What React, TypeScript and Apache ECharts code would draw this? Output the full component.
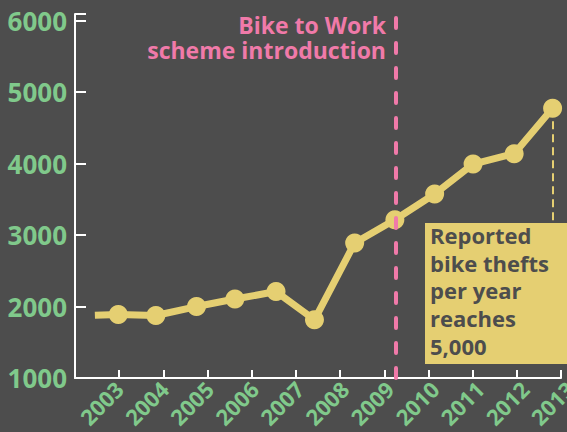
import React, { useEffect, useRef } from "react";
import * as echarts from "echarts";

const xTicks = [2003, 2004, 2005, 2006, 2007, 2008, 2009, 2010, 2011, 2012, 2013];
const pointYears = [2002.45, 2002.98, 2003.83, 2004.75, 2005.62, 2006.55, 2007.42, 2008.33, 2009.24, 2010.14, 2011.01, 2011.94, 2012.81];
const thefts = [1880, 1890, 1875, 2000, 2105, 2210, 1815, 2890, 3215, 3575, 3995, 4140, 4775];
const yTicks = [1000, 2000, 3000, 4000, 5000, 6000];
const schemeYear = 2009.27;
const schemeLabel = ["Bike to Work", "scheme introduction"];
const boxLines = ["Reported", "bike thefts", "per year", "reaches", "5,000"];

const BG = "#4d4d4d";
const GREEN = "#80c98b";
const PINK = "#f07aa9";
const YELLOW = "#e5cf72";
const FONT = "Open Sans";

export default function App() {
  const ref = useRef<HTMLDivElement>(null);
  useEffect(() => {
    document.body.style.margin = "0";
    document.body.style.background = BG;
    const chart = echarts.init(ref.current!, null, { renderer: "svg" });
    const last = pointYears.length - 1;
    const yearLabel = (v: number) =>
      xTicks.includes(Math.round(v)) && Math.abs(v - Math.round(v)) < 1e-6 ? String(Math.round(v)) : "";
    chart.setOption({
      animation: false,
      backgroundColor: BG,
      textStyle: { fontFamily: FONT },
      grid: [
        { left: 75, right: 6, top: 14, bottom: 54, containLabel: false, outerBoundsMode: "none" },
        { left: 74, width: 541, top: 14, bottom: 54, containLabel: false, outerBoundsMode: "none" },
      ],
      xAxis: [
        {
          type: "value",
          gridIndex: 0,
          min: 2002,
          max: 2013,
          interval: 1,
          splitLine: { show: false },
          axisLine: { show: true, lineStyle: { color: "#ffffff", width: 2 } },
          axisTick: { show: true, inside: true, length: 8, lineStyle: { color: "#ffffff", width: 2 } },
          axisLabel: { show: false },
        },
        {
          type: "value",
          gridIndex: 1,
          min: 2002,
          max: 2014,
          interval: 1,
          splitLine: { show: false },
          axisLine: { show: false },
          axisTick: { show: false },
          axisLabel: {
            rotate: 45,
            margin: 7,
            color: GREEN,
            fontFamily: FONT,
            fontWeight: "bold",
            fontSize: 22,
            formatter: yearLabel,
          },
        },
      ],
      yAxis: [
        {
          type: "value",
          gridIndex: 0,
          min: 1000,
          max: 6095,
          interval: 1000,
          splitLine: { show: false },
          axisLine: { show: true, lineStyle: { color: "#ffffff", width: 2 } },
          axisTick: { show: true, inside: true, length: 11, lineStyle: { color: "#ffffff", width: 2 } },
          axisLabel: {
            margin: 8,
            color: GREEN,
            fontFamily: FONT,
            fontWeight: "bold",
            fontSize: 26,
            showMaxLabel: true,
            formatter: (v: number) => (yTicks.includes(v) ? String(v) : ""),
          },
        },
        {
          type: "value",
          gridIndex: 1,
          min: 1000,
          max: 6095,
          show: false,
        },
      ],
      series: [
        {
          type: "line",
          xAxisIndex: 0,
          yAxisIndex: 0,
          z: 1,
          data: [],
          silent: true,
          markLine: {
            silent: true,
            symbol: "none",
            label: { show: false },
            lineStyle: { color: PINK, width: 4, type: [10, 15], cap: "round" },
            data: [{ xAxis: schemeYear }],
          },
        },
        {
          type: "line",
          xAxisIndex: 0,
          yAxisIndex: 0,
          z: 3,
          data: pointYears.map((x, i) =>
            i === 0 ? { value: [x, thefts[i]], symbol: "none" } : { value: [x, thefts[i]] }
          ),
          symbol: "circle",
          symbolSize: 19,
          showSymbol: true,
          lineStyle: { color: YELLOW, width: 7, join: "round" },
          itemStyle: { color: YELLOW },
          markLine: {
            silent: true,
            symbol: "none",
            label: { show: false },
            lineStyle: { color: YELLOW, width: 2, type: [8, 5] },
            data: [[{ coord: [pointYears[last], thefts[last]] }, { coord: [pointYears[last], 3172] }]],
          },
        },
      ],
      graphic: [
        {
          type: "text",
          x: 386,
          y: 12.5,
          style: {
            text: schemeLabel.join("\n"),
            fill: PINK,
            font: `bold 23px "${FONT}"`,
            align: "right",
            verticalAlign: "top",
            lineHeight: 25,
          },
        },
        {
          type: "rect",
          left: 425,
          top: 223,
          z: 10,
          shape: { width: 142, height: 141 },
          style: { fill: YELLOW },
        },
        {
          type: "text",
          x: 430,
          y: 221.2,
          z: 11,
          style: {
            text: boxLines.join("\n"),
            fill: BG,
            font: `bold 22px "${FONT}"`,
            align: "left",
            verticalAlign: "top",
            lineHeight: 27.7,
          },
        },
      ],
    });
    return () => chart.dispose();
  }, []);
  return <div ref={ref} style={{ position: "fixed", left: 0, top: 0, width: 567, height: 432 }} />;
}
